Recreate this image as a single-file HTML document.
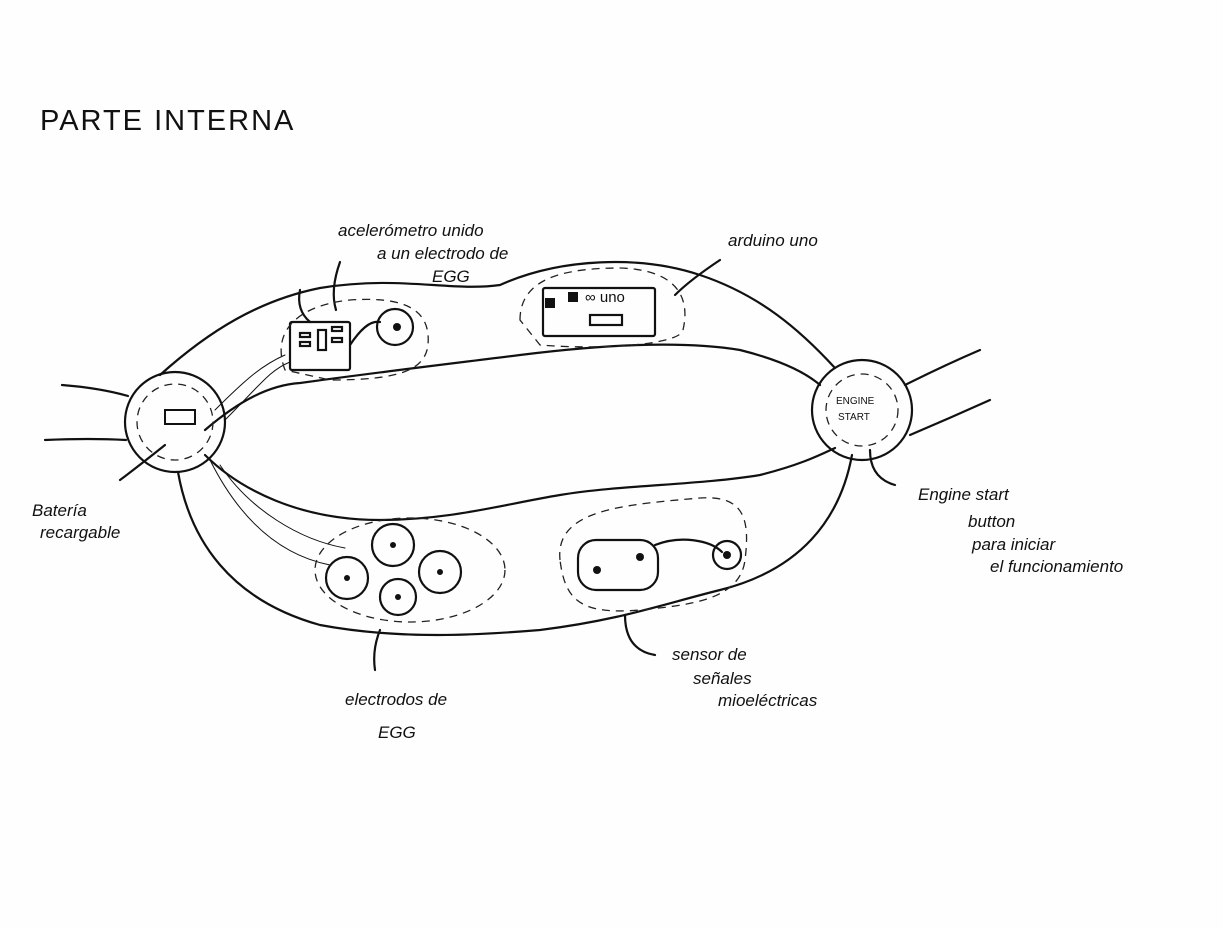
<!DOCTYPE html>
<html><head><style>
html,body{margin:0;padding:0;background:#fefefe;}
svg{display:block}
text{font-family:"Liberation Sans",sans-serif;fill:#111}
</style></head><body>
<svg width="1223" height="928" viewBox="0 0 1223 928" xmlns="http://www.w3.org/2000/svg">
<rect width="1223" height="928" fill="#fefefe"/>
<text x="40" y="130" font-size="29" letter-spacing="2" font-weight="normal">PARTE INTERNA</text>
<g fill="none" stroke="#111" stroke-width="2.2" stroke-linecap="round">
<!-- wires -->
<path d="M62,385 Q100,388 128,396"/>
<path d="M45,440 Q90,438 126,440"/>
<path d="M905,385 Q945,365 980,350"/>
<path d="M910,435 Q950,418 990,400"/>
<!-- upper band -->
<path d="M160,375 C210,330 260,300 320,288 C400,275 450,292 500,285 C560,258 640,255 700,275 C760,295 800,330 835,368"/>
<path d="M205,430 C240,400 270,385 300,383 C380,372 440,365 520,355 C600,345 680,340 740,350 C780,360 805,372 820,385"/>
<path d="M225,420 C260,385 270,370 290,362" stroke-width="1"/>
<path d="M215,410 C245,380 262,365 285,355" stroke-width="1"/>
<!-- lower band -->
<path d="M178,472 C190,540 230,600 320,625 C400,640 480,635 540,630 C620,620 660,605 720,590 C800,570 840,520 852,455"/>
<path d="M205,455 C240,490 300,520 380,520 C450,520 500,505 560,495 C620,485 700,485 760,475 C800,465 820,455 835,448"/>
<path d="M210,460 C240,520 280,555 330,565" stroke-width="1"/>
<path d="M220,465 C250,510 300,540 345,548" stroke-width="1"/>
<!-- circles -->
<circle cx="175" cy="422" r="50"/>
<circle cx="862" cy="410" r="50"/>
<!-- upper components -->
<rect x="290" y="322" width="60" height="48" rx="2"/>
<rect x="318" y="330" width="8" height="20"/>
<rect x="300" y="333" width="10" height="4"/><rect x="300" y="342" width="10" height="4"/>
<rect x="332" y="327" width="10" height="4"/><rect x="332" y="338" width="10" height="4"/>
<path d="M350,345 C360,330 370,320 380,322"/>
<circle cx="395" cy="327" r="18"/>
<rect x="543" y="288" width="112" height="48" rx="2"/>
<rect x="590" y="315" width="32" height="10"/>
<path d="M300,290 Q296,310 310,322"/>
<path d="M340,262 Q330,290 336,310"/>
<path d="M720,260 Q690,280 675,295"/>
<!-- lower components -->
<circle cx="393" cy="545" r="21"/>
<circle cx="347" cy="578" r="21"/>
<circle cx="440" cy="572" r="21"/>
<circle cx="398" cy="597" r="18"/>
<rect x="578" y="540" width="80" height="50" rx="18"/>
<path d="M655,545 C680,535 710,540 722,552"/>
<circle cx="727" cy="555" r="14"/>
<!-- arrows -->
<path d="M165,445 Q140,465 120,480"/>
<path d="M870,450 Q870,478 895,485"/>
<path d="M380,630 Q372,650 375,670"/>
<path d="M625,615 Q625,650 655,655"/>
</g>
<g fill="none" stroke="#222" stroke-width="1.3" stroke-dasharray="8,6">
<circle cx="175" cy="422" r="38"/>
<circle cx="862" cy="410" r="36"/>
<path d="M285,370 C270,330 300,305 350,300 C420,295 430,320 428,345 C425,370 400,380 330,380 Z"/>
<path d="M520,320 C520,280 560,268 620,268 C680,270 690,300 683,330 C680,345 600,350 540,345 Z"/>
<ellipse cx="410" cy="570" rx="95" ry="52"/>
<path d="M560,560 C555,510 620,505 700,498 C745,495 750,520 745,560 C740,600 690,605 640,610 C580,615 565,600 560,560 Z"/>
</g>
<g fill="#111">
<circle cx="397" cy="327" r="4"/><circle cx="393" cy="545" r="3"/><circle cx="347" cy="578" r="3"/>
<circle cx="440" cy="572" r="3"/><circle cx="398" cy="597" r="3"/><circle cx="727" cy="555" r="4"/>
<circle cx="597" cy="570" r="4"/><circle cx="640" cy="557" r="4"/>
<rect x="545" y="298" width="10" height="10"/><rect x="568" y="292" width="10" height="10"/>
<rect x="165" y="410" width="30" height="14" fill="none" stroke="#111" stroke-width="2"/>
</g>
<text x="585" y="302" font-size="15">∞ uno</text>
<text x="836" y="404" font-size="10">ENGINE</text>
<text x="838" y="420" font-size="10">START</text>
<g font-size="17" font-style="italic">
<text x="338" y="236">acelerómetro unido</text>
<text x="377" y="259">a un electrodo de</text>
<text x="432" y="282">EGG</text>
<text x="728" y="246">arduino uno</text>
<text x="32" y="516">Batería</text>
<text x="40" y="538">recargable</text>
<text x="918" y="500">Engine start</text>
<text x="968" y="527">button</text>
<text x="972" y="550">para iniciar</text>
<text x="990" y="572">el funcionamiento</text>
<text x="345" y="705">electrodos de</text>
<text x="378" y="738">EGG</text>
<text x="672" y="660">sensor de</text>
<text x="693" y="684">señales</text>
<text x="718" y="706">mioeléctricas</text>
</g>
</svg>
</body></html>
